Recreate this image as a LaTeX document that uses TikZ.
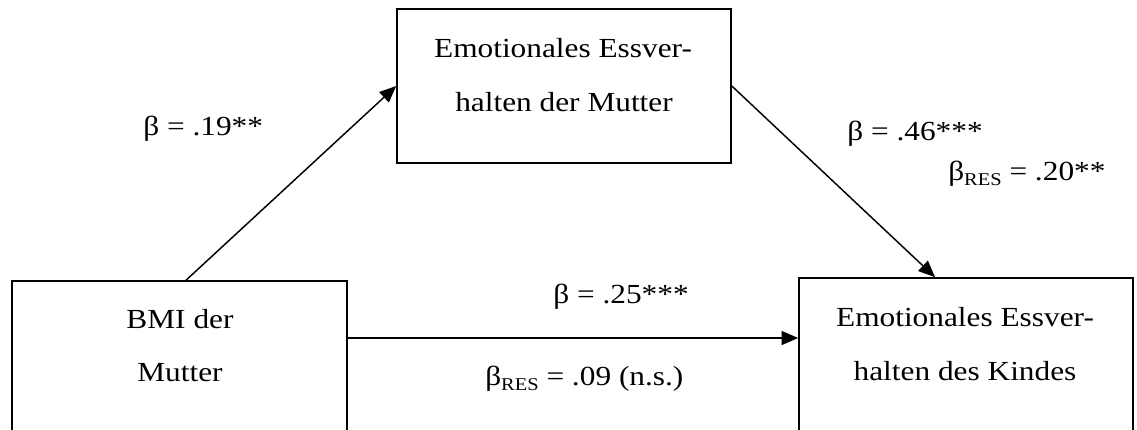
\documentclass[tikz,border=0pt]{standalone}
\usepackage{fontspec}
\setmainfont{Liberation Serif}[FakeStretch=1.135]
\usetikzlibrary{arrows.meta}
\newcommand\subres{\raisebox{-0.2em}{\fontsize{13.5pt}{14pt}\selectfont RES}}
\begin{document}
\begin{tikzpicture}[x=0.75pt,y=-0.75pt,
  box/.style={draw, line width=1.2pt, rectangle, inner sep=0pt},
  txt/.style={inner sep=0pt, anchor=base, font=\fontsize{20.7pt}{24pt}\selectfont},
  lbl/.style={inner sep=0pt, anchor=base west, font=\fontsize{20.7pt}{24pt}\selectfont},
  arr/.style={draw, line width=1.1pt, -{Triangle[length=12.5pt,width=10.5pt]}}]
\useasboundingbox (0,0) rectangle (1137,429);
\clip (0,0) rectangle (1137,429);
% boxes
\node[box, minimum width=250.5pt, minimum height=115.5pt] (top) at (564,86) {};
\node[box, minimum width=251.25pt, minimum height=115.5pt] (bmi) at (179.5,358) {};
\node[box, minimum width=250.5pt, minimum height=115.5pt] (kid) at (966,355) {};
% box texts
\node[txt] (t1) at (563,57.7) {Emotionales Essver-};
\node[txt] (t2) at (564,111.7) {halten der Mutter};
\node[txt] (b1) at (180,328) {BMI der};
\node[txt] (b2) at (180,381) {Mutter};
\node[txt] (k1) at (965,326) {Emotionales Essver-};
\node[txt] (k2) at (965,380.7) {halten des Kindes};
% connectors
\draw[arr] ([xshift=4.9pt]bmi.north) -- (top.west);
\draw[arr] (top.east) -- ([xshift=-23.2pt]kid.north);
\coordinate (h) at ([yshift=15pt]bmi.east);
\draw[arr] (h) -- (h -| kid.west);
% labels
\node[lbl] (l1) at (143,135) {β = .19**};
\node[lbl] (l2) at (847,140) {β = .46***};
\node[lbl] (l3) at (948,180) {β\subres{} = .20**};
\node[lbl] (l4) at (553,303) {β = .25***};
\node[lbl] (l5) at (485,385) {β\subres{} = .09 (n.s.)};
\end{tikzpicture}
\end{document}
